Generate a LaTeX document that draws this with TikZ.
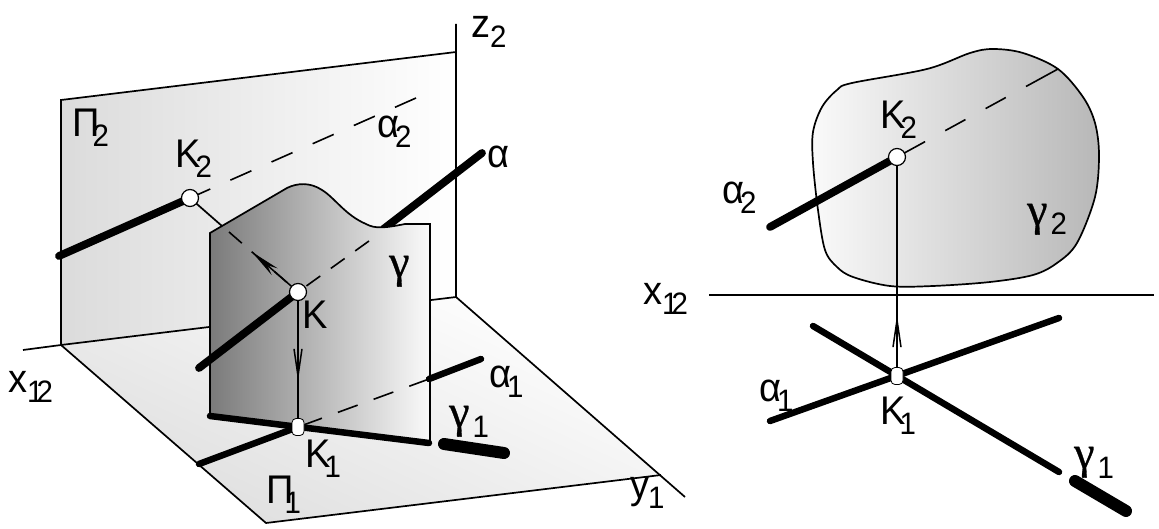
\documentclass[tikz,border=0pt]{standalone}
\usepackage{fontspec}
\setmainfont[FakeStretch=0.95]{Liberation Sans}
\newfontfamily\gamfont{Liberation Serif}[FakeBold=0.7]
\usetikzlibrary{arrows.meta}
\newcommand{\Lbl}[3]{{\fontsize{40}{40}\selectfont #1\kern#2pt\raisebox{-10pt}{\fontsize{31}{31}\selectfont #3}}}
\newcommand{\Gam}[2]{{\gamfont\fontsize{46}{46}\selectfont γ}\kern#1pt\raisebox{-10pt}{\fontsize{31}{31}\selectfont #2}}
\tikzset{
 lbl/.style={inner sep=0pt,anchor=base west,text=black},
 thinl/.style={line width=1.7pt,black},
 heavy/.style={line width=6.5pt,line cap=round,black},
 heavier/.style={line width=7.8pt,line cap=round,black},
 vheavy/.style={line width=12pt,line cap=round,black},
 hidden/.style={line width=1.6pt,black},
 pt/.style={circle,draw=black,fill=white,line width=1.2pt,minimum size=17pt,inner sep=0pt},
 ptn/.style={rectangle,rounded corners=4pt,draw=black,fill=white,line width=.8pt,minimum width=12pt,minimum height=17pt,inner sep=0pt},
 barb/.style={line width=1.5pt,-{Straight Barb[length=27pt,width=8pt]}},
 solidtip/.style={line width=1.5pt,-{Stealth[length=30pt,width=9pt]}},
}
\begin{document}
\begin{tikzpicture}[x=1pt,y=-1pt]
\useasboundingbox (0,0) rectangle (1159,529);
% ---- left view frame
\coordinate (wtl) at (61,100);
\coordinate (wtr) at (456,52);
\coordinate (wbr) at (456,297);
\coordinate (wbl) at (61,345);
\coordinate (gb) at (266,523);
\coordinate (gr) at (661,475);
\coordinate (ztop) at (456,24);
\coordinate (xs) at (23,350);
\coordinate (yend) at (685,497);
\path[shade,top color=white,bottom color=black!13,shading angle=-25] (wbl)--(wbr)--(gr)--(gb)--cycle;
\path[shade,left color=black!14,right color=white] (wtl)--(wtr)--(wbr)--(wbl)--cycle;
\draw[thinl] (wbl)--(wtl)--(wtr);
\draw[thinl] (ztop)--(wbr)--(yend);
\draw[thinl] (xs)--(wbl)--(wbr);
\draw[thinl] (wbl)--(gb)--(gr);
% points
\coordinate (K2p) at (190,198);
\coordinate (Kp) at (298,292);
\coordinate (K1p) at (298,427);
\coordinate (a2s) at (59,256);
\coordinate (a2e) at (416,98);
\coordinate (aEnd) at (482,153);
\coordinate (aGam) at (383.5,229);
\coordinate (aLow) at (199,368);
\coordinate (aDash) at (369,241);
\coordinate (kDash) at (229,232);
\coordinate (kEdge) at (222,226);
\coordinate (a1s) at (199,464);
\coordinate (a1m) at (429,379);
\coordinate (a1e) at (481,359);
\coordinate (g1s) at (210,416);
\coordinate (g1e) at (429,443);
\coordinate (g1hs) at (444,444);
\coordinate (g1he) at (504,453);
\draw[hidden,dash pattern=on 23pt off 22pt] (a2e)--(K2p);
\draw[thinl] (K2p)--(kEdge);
\draw[heavier] (a2s)--(K2p);
\draw[heavier] (aGam)--(aEnd);
% surface
\path[shade,left color=black!52,right color=black!2]
 (210,416) -- (210,233) -- (287,188)
 .. controls (297,183) and (310,182) .. (322,190)
 .. controls (335,198) and (345,215) .. (366,224)
 .. controls (375,229) and (385,228) .. (405,224)
 -- (430,224) -- (430,443) -- cycle;
\draw[thinl] (210,416) -- (210,233) -- (287,188)
 .. controls (297,183) and (310,182) .. (322,190)
 .. controls (335,198) and (345,215) .. (366,224)
 .. controls (375,229) and (385,228) .. (405,224)
 -- (430,224) -- (430,443);
\draw[hidden,dash pattern=on 17pt off 13pt] (aDash)--(Kp);
\draw[hidden,dash pattern=on 17pt off 13pt] (kDash)--(Kp);
\coordinate (tipU) at (252,252);
\draw[solidtip] (Kp)--(tipU);
\draw[hidden,dash pattern=on 21pt off 17pt] (a1m)--(K1p);
\draw[heavy] (a1m)--(a1e);
\draw[heavier] (aLow)--(Kp);
\draw[heavy] (a1s)--(K1p);
\draw[heavy] (g1s)--(g1e);
\draw[vheavy] (g1hs)--(g1he);
\coordinate (tipD) at (298,381);
\draw[thinl] (Kp)--(K1p);
\draw[barb] (Kp)--(tipD);
\node[pt] (K2) at (K2p) {};
\node[pt] (K) at (Kp) {};
\node[ptn] (K1) at (K1p) {};
% left labels
\node[lbl] (lz) at (471,38) {\Lbl{z}{0}{2}};
\node[lbl] (lP2) at (72,137) {\Lbl{Π}{-7}{2}};
\node[lbl] (lK2) at (175,168) {\Lbl{K}{-5}{2}};
\node[lbl] (la2) at (377,138) {\Lbl{α}{-4}{2}};
\node[lbl] (la) at (487,168) {\fontsize{40}{40}\selectfont α};
\node[lbl] (lg) at (389,277) {{\gamfont\fontsize{46}{46}\selectfont γ}};
\node[lbl] (lK) at (302,328) {\fontsize{40}{40}\selectfont K};
\node[lbl] (lx) at (8,392) {\Lbl{x}{0}{1\kern-7pt 2}};
\node[lbl] (la1) at (489,387) {\Lbl{α}{-4}{1}};
\node[lbl] (lg1) at (449,427) {\Gam{3}{1}};
\node[lbl] (lK1) at (305,467) {\Lbl{K}{-6}{1}};
\node[lbl] (lP1) at (266,503) {\Lbl{Π}{-9}{1}};
\node[lbl] (ly1) at (630,498) {\Lbl{y}{-1}{1}};
% ---- right view
\path[shade,left color=black!2,right color=black!28]
 plot[smooth cycle,tension=.55] coordinates {(813,132) (822,107) (837,90) (852,83) (927,69) (970,53) (993,49) (1023,53) (1058,69) (1083,97) (1095,123) (1099,155) (1095,197) (1077,243) (1057,263) (1033,275) (990,282) (933,286) (890,286) (853,277) (837,267) (825,250) (818,210) (813,163)};
\draw[thinl]
 plot[smooth cycle,tension=.55] coordinates {(813,132) (822,107) (837,90) (852,83) (927,69) (970,53) (993,49) (1023,53) (1058,69) (1083,97) (1095,123) (1099,155) (1095,197) (1077,243) (1057,263) (1033,275) (990,282) (933,286) (890,286) (853,277) (837,267) (825,250) (818,210) (813,163)};
\coordinate (rK2) at (897,157);
\coordinate (rK1) at (897,376);
\coordinate (xl) at (709,295);
\coordinate (xr) at (1154,295);
\coordinate (ra2s) at (770,227);
\coordinate (ra2e) at (1058,69);
\coordinate (ra1s) at (770,421);
\coordinate (ra1e) at (1059,318);
\coordinate (rg1s) at (813,326);
\coordinate (rg1e) at (1059,472);
\coordinate (rghs) at (1075,481);
\coordinate (rghe) at (1126,511);
\coordinate (rtip) at (897,315);
\draw[thinl] (xl)--(xr);
\draw[hidden,dash pattern=on 32pt off 23pt on 23pt off 23pt on 23pt off 23pt on 40pt] (rK2)--(ra2e);
\draw[heavier] (ra2s)--(rK2);
\draw[heavy] (ra1s)--(ra1e);
\draw[heavy] (rg1s)--(rg1e);
\draw[vheavy] (rghs)--(rghe);
\draw[thinl] (rK2)--(rK1);
\draw[barb] (rK1)--(rtip);
\node[pt] (K2r) at (rK2) {};
\node[ptn] (K1r) at (rK1) {};
\node[lbl] (rlK2) at (880,129) {\Lbl{K}{-5}{2}};
\node[lbl] (rla2) at (722,204) {\Lbl{α}{-4}{2}};
\node[lbl] (rlg2) at (1027,225) {\Gam{3}{2}};
\node[lbl] (rlx) at (643,305) {\Lbl{x}{0}{1\kern-7pt 2}};
\node[lbl] (rla1) at (759,401) {\Lbl{α}{-4}{1}};
\node[lbl] (rlK1) at (880,424) {\Lbl{K}{-6}{1}};
\node[lbl] (rlg1) at (1074,468) {\Gam{3}{1}};
\end{tikzpicture}
\end{document}
